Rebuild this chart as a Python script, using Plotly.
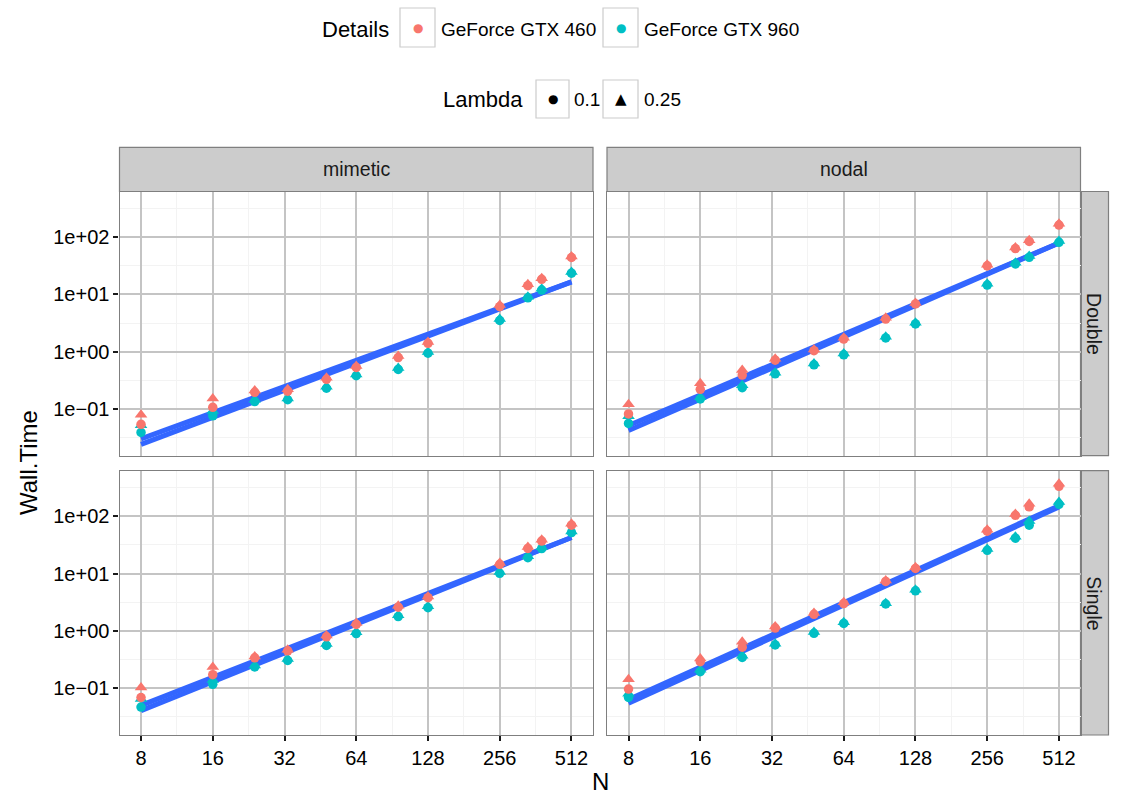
import numpy as np
import plotly.graph_objects as go

# ---------------- data ----------------
N = [8, 16, 24, 33, 48, 64, 96, 128, 256, 336, 384, 512]
methods = ["mimetic", "nodal"]
precisions = ["Double", "Single"]
gpus = ["GeForce GTX 460", "GeForce GTX 960"]
lambdas = [0.1, 0.25]

# Wall.Time readings: <method>_<precision>_<gpu>_<lambda>
mimetic_double_460_l025 = [0.079, 0.153, 0.21, 0.22, 0.35, 0.56, 0.84, 1.48, 6.5, 15.0, 19.2, 46]
mimetic_double_460_l01 = [0.054, 0.107, 0.195, 0.205, 0.33, 0.53, 0.79, 1.40, 6.1, 14.2, 18.3, 44]
mimetic_double_960_l025 = [0.052, 0.092, 0.145, 0.153, 0.245, 0.40, 0.52, 0.99, 3.7, 9.1, 12.5, 24.5]
mimetic_double_960_l01 = [0.039, 0.076, 0.135, 0.145, 0.23, 0.38, 0.49, 0.94, 3.5, 8.7, 11.9, 23.4]

mimetic_single_460_l025 = [0.103, 0.235, 0.36, 0.47, 0.83, 1.37, 2.75, 4.0, 15.3, 29, 39, 74]
mimetic_single_460_l01 = [0.069, 0.173, 0.34, 0.45, 0.79, 1.30, 2.6, 3.8, 14.5, 27.5, 37, 70]
mimetic_single_960_l025 = [0.065, 0.14, 0.25, 0.325, 0.59, 0.95, 1.88, 2.7, 10.7, 20, 28.7, 54.5]
mimetic_single_960_l01 = [0.047, 0.117, 0.235, 0.305, 0.56, 0.9, 1.78, 2.55, 10.1, 19, 27.3, 52]

nodal_double_460_l025 = [0.121, 0.28, 0.48, 0.75, 1.09, 1.75, 3.9, 7.1, 33, 66, 88, 170]
nodal_double_460_l01 = [0.082, 0.22, 0.39, 0.71, 1.04, 1.66, 3.7, 6.8, 31.5, 63, 84, 162]
nodal_double_960_l025 = [0.075, 0.16, 0.26, 0.43, 0.62, 0.93, 1.83, 3.2, 15.3, 35.5, 46.5, 85]
nodal_double_960_l01 = [0.056, 0.15, 0.235, 0.41, 0.59, 0.88, 1.74, 3.05, 14.5, 34, 44.3, 81]

nodal_single_460_l025 = [0.144, 0.33, 0.65, 1.2, 2.05, 3.15, 7.6, 12.9, 58, 110, 166, 371]
nodal_single_460_l01 = [0.097, 0.29, 0.52, 1.12, 1.95, 3.0, 7.3, 12.3, 55, 104, 146, 333]
nodal_single_960_l025 = [0.08, 0.21, 0.37, 0.6, 0.96, 1.42, 3.05, 5.25, 27, 44, 83, 178]
nodal_single_960_l01 = [0.069, 0.195, 0.345, 0.57, 0.91, 1.35, 2.95, 5.0, 25.5, 41.5, 70, 162]

data = {
    ("mimetic", "Double"): {("GeForce GTX 460", 0.25): mimetic_double_460_l025, ("GeForce GTX 460", 0.1): mimetic_double_460_l01,
                            ("GeForce GTX 960", 0.25): mimetic_double_960_l025, ("GeForce GTX 960", 0.1): mimetic_double_960_l01},
    ("mimetic", "Single"): {("GeForce GTX 460", 0.25): mimetic_single_460_l025, ("GeForce GTX 460", 0.1): mimetic_single_460_l01,
                            ("GeForce GTX 960", 0.25): mimetic_single_960_l025, ("GeForce GTX 960", 0.1): mimetic_single_960_l01},
    ("nodal", "Double"): {("GeForce GTX 460", 0.25): nodal_double_460_l025, ("GeForce GTX 460", 0.1): nodal_double_460_l01,
                          ("GeForce GTX 960", 0.25): nodal_double_960_l025, ("GeForce GTX 960", 0.1): nodal_double_960_l01},
    ("nodal", "Single"): {("GeForce GTX 460", 0.25): nodal_single_460_l025, ("GeForce GTX 460", 0.1): nodal_single_460_l01,
                          ("GeForce GTX 960", 0.25): nodal_single_960_l025, ("GeForce GTX 960", 0.1): nodal_single_960_l01},
}

x_ticks = [8, 16, 32, 64, 128, 256, 512]
x_ticklabels = ["8", "16", "32", "64", "128", "256", "512"]
y_ticks = [0.1, 1, 10, 100]
y_ticklabels = ["1e\u221201", "1e+00", "1e+01", "1e+02"]

# ---------------- styling ----------------
W, H = 1121, 794
FONT = "Liberation Sans, Arial, Helvetica, sans-serif"
GLYPH_FONT = "DejaVu Sans"
COL = {"GeForce GTX 460": "#F8766D", "GeForce GTX 960": "#00BFC4"}
SYM = {0.1: "circle", 0.25: "triangle-up"}
SIZE = {0.1: 9.5, 0.25: 11}
GRID = "#C4C4C4"
MINOR = "#F3F3F3"
BORDER = "#7F7F7F"
STRIP = "#CCCCCC"


def fx(p):
    return p / W


def fy(p):
    return 1 - p / H


XD = {"mimetic": (119.5, 593.0), "nodal": (607.0, 1080.5)}
YD = {"Double": (191.5, 455.7), "Single": (470.7, 735.0)}
panel_id = {("mimetic", "Double"): 1, ("nodal", "Double"): 2, ("mimetic", "Single"): 3, ("nodal", "Single"): 4}

lx = np.log10(N)
pad = 0.05 * (lx.max() - lx.min())
x_range = [lx.min() - pad, lx.max() + pad]
y_range = [-1.815, 2.795]

fig = go.Figure()

# smooth lines (lm in log-log space, per Lambda group)
for (m, p), d in data.items():
    k = panel_id[(m, p)]
    for lam in lambdas:
        xs = np.concatenate([np.log10(N), np.log10(N)])
        ys = np.concatenate([np.log10(d[(g, lam)]) for g in gpus])
        slope, icpt = np.polyfit(xs, ys, 1)
        fit = 10 ** (icpt + slope * np.log10(N))
        fig.add_trace(go.Scatter(x=N, y=fit, mode="lines", line=dict(color="#3366FF", width=5),
                                 xaxis="x" if k == 1 else f"x{k}", yaxis="y" if k == 1 else f"y{k}",
                                 showlegend=False, hoverinfo="skip"))

# points
for (m, p), d in data.items():
    k = panel_id[(m, p)]
    for g in ["GeForce GTX 960", "GeForce GTX 460"]:
        for lam in [0.25, 0.1]:
            fig.add_trace(go.Scatter(x=N, y=d[(g, lam)], mode="markers",
                                     marker=dict(symbol=SYM[lam], size=SIZE[lam], color=COL[g],
                                                 line=dict(width=0)),
                                     xaxis="x" if k == 1 else f"x{k}", yaxis="y" if k == 1 else f"y{k}",
                                     name=f"{g} / {lam}", showlegend=False))

layout = dict(width=W, height=H, margin=dict(l=0, r=0, t=0, b=0), paper_bgcolor="white",
              plot_bgcolor="white", font=dict(family=FONT, color="black"), showlegend=False)

x_minor = [2 ** (e + 0.5) for e in range(3, 9)]
y_minor = [10 ** (e + 0.5) for e in range(-2, 3)]

for (m, p), k in panel_id.items():
    xa = "xaxis" if k == 1 else f"xaxis{k}"
    ya = "yaxis" if k == 1 else f"yaxis{k}"
    bottom = p == "Single"
    left = m == "mimetic"
    layout[xa] = dict(type="log", domain=[fx(XD[m][0]), fx(XD[m][1])], range=x_range,
                      anchor="y" if k == 1 else f"y{k}",
                      tickmode="array", tickvals=x_ticks, ticktext=x_ticklabels,
                      showticklabels=bottom, ticks="outside" if bottom else "", ticklen=5, tickwidth=1.5,
                      tickcolor="#1A1A1A", tickfont=dict(size=20, color="black"),
                      showgrid=True, gridcolor=GRID, gridwidth=1.6, zeroline=False,
                      showline=True, linecolor=BORDER, linewidth=1.2, mirror=True,
                      minor=dict(tickmode="array", tickvals=x_minor, showgrid=True, gridcolor=MINOR,
                                 gridwidth=1.2, ticks=""),
                      automargin=False)
    layout[ya] = dict(type="log", domain=[fy(YD[p][1]), fy(YD[p][0])], range=y_range,
                      anchor="x" if k == 1 else f"x{k}",
                      tickmode="array", tickvals=y_ticks, ticktext=y_ticklabels,
                      showticklabels=left, ticks="outside" if left else "", ticklen=5, tickwidth=1.5,
                      tickcolor="#1A1A1A", tickfont=dict(size=20, color="black"),
                      showgrid=True, gridcolor=GRID, gridwidth=1.6, zeroline=False,
                      showline=True, linecolor=BORDER, linewidth=1.2, mirror=True,
                      minor=dict(tickmode="array", tickvals=y_minor, showgrid=True, gridcolor=MINOR,
                                 gridwidth=1.2, ticks=""),
                      automargin=False)

shapes = []
annotations = []

# strips
for m in methods:
    shapes.append(dict(type="rect", xref="paper", yref="paper", x0=fx(XD[m][0]), x1=fx(XD[m][1]),
                       y0=fy(191.5), y1=fy(147.3), fillcolor=STRIP, line=dict(color=BORDER, width=1.2),
                       layer="below"))
    annotations.append(dict(text=m, xref="paper", yref="paper", x=fx(sum(XD[m]) / 2), y=fy(169.5),
                            showarrow=False, font=dict(size=19.5, color="#1A1A1A"), xanchor="center",
                            yanchor="middle"))
for p in precisions:
    shapes.append(dict(type="rect", xref="paper", yref="paper", x0=fx(1080.5), x1=fx(1108.5),
                       y0=fy(YD[p][1]), y1=fy(YD[p][0]), fillcolor=STRIP, line=dict(color=BORDER, width=1.2),
                       layer="below"))
    annotations.append(dict(text=p, xref="paper", yref="paper", x=fx(1094.5), y=fy(sum(YD[p]) / 2),
                            showarrow=False, textangle=90, font=dict(size=19.5, color="#1A1A1A"),
                            xanchor="center", yanchor="middle"))

# axis titles
annotations.append(dict(text="Wall.Time", xref="paper", yref="paper", x=fx(28), y=fy(463),
                        showarrow=False, textangle=-90, font=dict(size=24), xanchor="center", yanchor="middle"))
annotations.append(dict(text="N", xref="paper", yref="paper", x=fx(600), y=fy(781),
                        showarrow=False, font=dict(size=24), xanchor="center", yanchor="middle"))

# legends (boxed keys like ggplot)
def key_box(x0, x1, y0, y1):
    shapes.append(dict(type="rect", xref="paper", yref="paper", x0=fx(x0), x1=fx(x1), y0=fy(y1), y1=fy(y0),
                       fillcolor="white", line=dict(color="#CCCCCC", width=1.2)))


def txt(t, x, y, size, anchor="left", color="black", family=None):
    f = dict(size=size, color=color)
    if family:
        f["family"] = family
    annotations.append(dict(text=t, xref="paper", yref="paper", x=fx(x), y=fy(y), showarrow=False,
                            font=f, xanchor=anchor, yanchor="middle"))


txt("Details", 391, 29, 22, "right")
key_box(400, 435, 8, 47)
txt("\u25CF", 417.5, 28.5, 12, "center", COL["GeForce GTX 460"], GLYPH_FONT)
txt(gpus[0], 439, 29, 19)
key_box(603, 638, 8, 47)
txt("\u25CF", 620.5, 28.5, 12, "center", COL["GeForce GTX 960"], GLYPH_FONT)
txt(gpus[1], 642, 29, 19)

txt("Lambda", 525, 100, 22, "right")
key_box(536, 569, 80, 118)
txt("\u25CF", 552.5, 99.5, 12, "center", "black", GLYPH_FONT)
txt(str(lambdas[0]), 572, 100, 19)
key_box(603, 638, 80, 118)
txt("\u25B2", 620.5, 98.5, 15, "center", "black", GLYPH_FONT)
txt(str(lambdas[1]), 642, 100, 19)

layout["shapes"] = shapes
layout["annotations"] = annotations
fig.update_layout(**layout)
fig.write_html("out.html")
